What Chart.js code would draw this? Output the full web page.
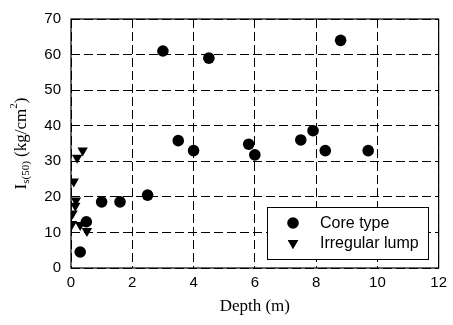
<!DOCTYPE html>
<html>
<head>
<meta charset="utf-8">
<script src="https://cdn.jsdelivr.net/npm/chart.js@4/dist/chart.umd.min.js"></script>
<style>
  html, body { margin: 0; padding: 0; background: #fff; }
  #wrap { width: 453px; height: 325px; }
</style>
</head>
<body>
<div id="wrap"><canvas id="chart" width="453" height="325"></canvas></div>
<script>
// values
const coreDepth = [0.3, 0.5, 1.0, 1.6, 2.5, 3.0, 3.5, 4.0, 4.5, 5.8, 6.0, 7.5, 7.9, 8.3, 8.8, 9.7];
const coreIs50  = [4.5, 13, 18.6, 18.6, 20.5, 61, 35.8, 33, 59, 34.8, 31.8, 36, 38.6, 33, 64, 33];

const lumpDepth = [0.38, 0.2, 0.09, 0.16, 0.14, 0.05, 0.03, 0.3, 0.52];
const lumpIs50  = [33, 31, 24.3, 19, 17.5, 15.3, 12.4, 12.1, 10.4];

const xTicks = [0, 2, 4, 6, 8, 10, 12];
const yTicks = [0, 10, 20, 30, 40, 50, 60, 70];

const toPoints = (xs, ys) => xs.map((x, i) => ({x: x, y: ys[i]}));

// frame, y title with sub/superscript and boxed legend
const extras = {
    id: 'extras',
    afterDraw(chart) {
        const ctx = chart.ctx;
        const a = chart.chartArea;
        ctx.save();
        ctx.strokeStyle = '#000';
        ctx.lineWidth = 1.2;
        ctx.strokeRect(a.left, a.top, a.right - a.left, a.bottom - a.top);

        // y axis title: I s(50) (kg/cm2)
        const parts = [
            {t: 'I', f: '17px "Liberation Serif"', dy: 0},
            {t: 's(50)', f: '11px "Liberation Serif"', dy: 4},
            {t: ' (kg/cm', f: '17px "Liberation Serif"', dy: 0},
            {t: '2', f: '11px "Liberation Serif"', dy: -8},
            {t: ')', f: '17px "Liberation Serif"', dy: 0},
        ];
        let total = 0;
        parts.forEach(p => { ctx.font = p.f; p.w = ctx.measureText(p.t).width; total += p.w; });
        ctx.translate(22, (a.top + a.bottom) / 2);
        ctx.rotate(-Math.PI / 2);
        ctx.fillStyle = '#000';
        ctx.textBaseline = 'middle';
        let px = -total / 2;
        parts.forEach(p => {
            ctx.font = p.f;
            ctx.fillText(p.t, px, p.dy);
            px += p.w;
        });
        ctx.restore();

        // legend
        ctx.save();
        const lx = 267, ly = 207, lw = 161, lh = 52;
        ctx.fillStyle = '#fff';
        ctx.fillRect(lx, ly, lw, lh);
        ctx.strokeStyle = '#000';
        ctx.lineWidth = 1;
        ctx.strokeRect(lx + 0.5, ly + 0.5, lw, lh);
        chart.data.datasets.forEach((ds, i) => {
            const cy = ly + 16 + i * 20;
            Chart.helpers.drawPoint(ctx, {
                pointStyle: ds.pointStyle,
                radius: ds.pointRadius,
                rotation: ds.rotation || 0,
                borderWidth: 0
            }, 293, cy);
            ctx.fillStyle = '#000';
            ctx.fill();
            ctx.font = '16px "Liberation Sans"';
            ctx.textBaseline = 'middle';
            ctx.fillText(ds.label, 320, cy + 1);
        });
        ctx.restore();
    }
};

new Chart(document.getElementById('chart').getContext('2d'), {
    type: 'scatter',
    data: {
        datasets: [
            {
                label: 'Core type',
                data: toPoints(coreDepth, coreIs50),
                pointStyle: 'circle',
                pointRadius: 5.8,
                backgroundColor: '#000',
                borderColor: '#000',
                borderWidth: 0
            },
            {
                label: 'Irregular lump',
                data: toPoints(lumpDepth, lumpIs50),
                pointStyle: 'triangle',
                rotation: 180,
                pointRadius: 6,
                backgroundColor: '#000',
                borderColor: '#000',
                borderWidth: 0
            }
        ]
    },
    options: {
        responsive: false,
        animation: false,
        layout: { padding: { top: 10, right: 13, left: 0, bottom: 0 } },
        plugins: {
            legend: { display: false },
            tooltip: { enabled: false }
        },
        scales: {
            x: {
                type: 'linear',
                min: 0,
                max: 12,
                afterBuildTicks: (axis) => { axis.ticks = xTicks.map(v => ({value: v})); },
                afterFit: (axis) => { axis.height = 57; },
                ticks: {
                    color: '#000',
                    padding: 6,
                    font: { family: 'Liberation Sans', size: 15 }
                },
                grid: {
                    color: '#000',
                    lineWidth: 1,
                    drawTicks: false
                },
                border: { display: false, dash: [9, 4] },
                title: {
                    display: true,
                    text: 'Depth (m)',
                    color: '#000',
                    font: { family: 'Liberation Serif', size: 17 },
                    padding: { top: 0, bottom: 8 }
                }
            },
            y: {
                type: 'linear',
                min: 0,
                max: 70,
                afterBuildTicks: (axis) => { axis.ticks = yTicks.map(v => ({value: v})); },
                afterFit: (axis) => { axis.width = 71; },
                ticks: {
                    color: '#000',
                    padding: 10,
                    font: { family: 'Liberation Sans', size: 15 }
                },
                grid: {
                    color: '#000',
                    lineWidth: 1,
                    drawTicks: false
                },
                border: { display: false, dash: [9, 4] }
            }
        }
    },
    plugins: [extras]
});
</script>
</body>
</html>
